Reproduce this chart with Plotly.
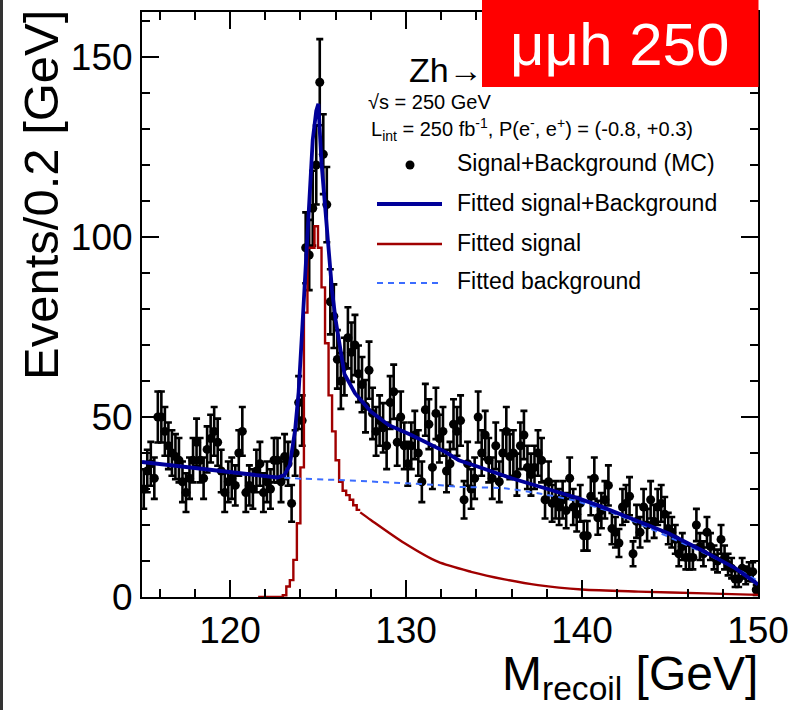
import numpy as np
import plotly.graph_objects as go

# ---------------- data ----------------
bin_width = 0.2
x_min, x_max = 115.0, 150.0
counts = [
    30, 35, 37, 33, 50, 50, 46, 42, 40, 39, 38, 32, 29, 33, 38, 43, 38, 33, 41, 44,
    46, 43, 35, 29, 32, 33, 31, 40, 46, 29, 31, 30, 35, 37, 29, 32, 30, 38, 38, 32,
    39, 37, 26,
    40, 54, 49, 97, 95, 108, 120, 143, 123, 109, 82, 78,
    66, 60, 64, 72, 68, 70, 62, 59, 53, 63, 51, 46, 49,
    47, 42, 54, 57, 43, 50, 42, 37, 42, 45, 40, 32, 52, 48, 36, 51, 44, 46, 35, 37,
    48, 46, 49, 27, 37, 30, 33, 50, 40, 45, 38, 33, 42, 32, 40, 46, 39, 40, 34, 42,
    45, 36, 34, 36, 40, 38,
    27, 32, 26, 27, 25, 27, 24, 33, 25, 23, 26, 17, 17, 28, 33, 22, 24, 27, 31, 19,
    18, 15, 25, 26, 28, 12, 21, 18, 25, 20, 27, 21, 25, 26, 23, 19, 18, 16, 12, 14,
    11, 11, 11, 20, 14, 12, 18, 14, 11, 10, 16, 11, 9, 8, 5, 5, 8, 6, 7, 7, 2,
]

# fitted signal histogram (peak region, per 0.2 GeV bin, left edges)
sig_bin_left = [121.6, 121.8, 122.0, 122.2, 122.4, 122.6, 122.8, 123.0, 123.2, 123.4,
                123.6, 123.8, 124.0, 124.2, 124.4, 124.6, 124.8, 125.0, 125.2, 125.4,
                125.6, 125.8, 126.0, 126.2, 126.4, 126.6, 126.8, 127.0, 127.2]
sig_bin_val = [0, 0, 0, 0, 0, 0, 0, 0.5, 2.9, 4.7,
               10.3, 20.5, 36, 79, 97, 97, 103, 97, 86, 70.5,
               56, 46, 38, 32, 29.5, 28.3, 27, 25.5, 24.2]
# fitted signal tail (read points)
sig_tail_x = [127.4, 128.0, 129.9, 131.8, 133.7, 135.6, 137.5, 140.0, 143.2, 147.0, 150.0]
sig_tail_y = [23.5, 21.4, 15.0, 9.8, 7.0, 4.9, 3.3, 2.1, 1.5, 1.0, 0.6]

# fitted signal + background
tot_x = [115.0, 118.2, 121.1, 122.7, 123.1, 123.4, 123.7, 123.9, 124.1, 124.3, 124.5,
         124.7, 124.9, 125.02, 125.2, 125.4, 125.6, 125.8, 126.0, 126.3, 126.5, 127.1,
         128.0, 129.0, 129.9, 130.3, 132.2, 133.0, 134.1, 136.0, 137.9, 139.8, 141.1,
         143.0, 144.9, 146.8, 148.7, 150.0]
tot_y = [37.5, 35.7, 33.9, 33.2, 33.9, 36.7, 46.4, 57, 74, 92.7, 111,
         127, 135, 137, 120.5, 109, 97, 85, 77, 68.6, 62, 56.6,
         51.5, 47.8, 46, 45, 40.4, 38, 36.2, 33, 30.2, 27.4, 25.1,
         21.4, 17.7, 13, 8, 3.5]

# fitted background
bkg_x = [115.0, 118.2, 121.1, 123.5, 126.1, 130.0, 131.8, 133.0, 135.6, 137.5, 139.4,
         141.3, 143.2, 145.1, 147.0, 148.9, 150.0]
bkg_y = [37.5, 35.7, 33.9, 33.0, 32.5, 31.6, 31.1, 30.6, 30.2, 28.8, 27.0,
         24.2, 20.5, 16.3, 12.1, 7.5, 4.5]

x_ticks = [120, 130, 140, 150]
y_ticks = [0, 50, 100, 150]

# ---------------- figure ----------------
W, H = 799, 710
L, R, T, B = 142, 41, 12, 113
PW, PH = W - L - R, H - T - B


def px(xp):
    return (xp - L) / PW


def py(yp):
    return (H - B - yp) / PH


FONT = "Liberation Sans, Arial, sans-serif"
BLUE = "#000099"
RED = "#a00000"
LBLUE = "#3b6cff"

centers = x_min + bin_width * (np.arange(len(counts)) + 0.5)
cnt = np.array(counts, dtype=float)
err = np.sqrt(cnt)

fig = go.Figure()

fig.add_trace(go.Scatter(
    x=centers, y=cnt, mode="markers",
    marker=dict(color="black", size=9),
    error_y=dict(type="data", array=err, visible=True, color="black", thickness=2.6, width=3.5),
    showlegend=False, cliponaxis=True,
))

fig.add_trace(go.Scatter(
    x=sig_bin_left + [sig_tail_x[0]], y=sig_bin_val + [sig_bin_val[-1]],
    mode="lines", line=dict(color=RED, width=2.4, shape="hv"), showlegend=False,
))
fig.add_trace(go.Scatter(
    x=sig_tail_x, y=sig_tail_y, mode="lines",
    line=dict(color=RED, width=2.4, shape="spline", smoothing=0.8), showlegend=False,
))
fig.add_trace(go.Scatter(
    x=bkg_x, y=bkg_y, mode="lines",
    line=dict(color=LBLUE, width=2, dash="6px,5px", shape="spline", smoothing=0.6),
    showlegend=False,
))
fig.add_trace(go.Scatter(
    x=tot_x, y=tot_y, mode="lines",
    line=dict(color=BLUE, width=3.8), showlegend=False,
))

axis_common = dict(
    showline=True, linecolor="black", linewidth=2, mirror="ticks",
    ticks="inside", ticklen=17, tickwidth=2, tickcolor="black",
    showgrid=False, zeroline=False,
    tickfont=dict(family=FONT, size=37, color="black"),
)

fig.update_xaxes(range=[x_min, x_max], tickvals=x_ticks,
                 minor=dict(dtick=2, tick0=0, ticklen=8, tickwidth=2, tickcolor="black",
                            ticks="inside", showgrid=False),
                 **axis_common)
fig.update_yaxes(range=[0, 162.5], tickvals=y_ticks,
                 minor=dict(dtick=10, tick0=0, ticklen=8, tickwidth=2, tickcolor="black",
                            ticks="inside", showgrid=False),
                 **axis_common)

shapes = []
annotations = []

# dark left border of the picture
shapes.append(dict(type="rect", xref="paper", yref="paper",
                   x0=px(0), x1=px(3), y0=py(H), y1=py(0),
                   fillcolor="#333333", line=dict(width=0), layer="above"))

# red label box
shapes.append(dict(type="rect", xref="paper", yref="paper",
                   x0=px(482), x1=px(758.5), y0=py(87), y1=py(0),
                   fillcolor="#ff0000", line=dict(width=0), layer="above"))
annotations.append(dict(text="μμh 250", xref="paper", yref="paper",
                        x=px(619), y=py(44), xanchor="center", yanchor="middle",
                        showarrow=False,
                        font=dict(family=FONT, size=60, color="white")))

annotations.append(dict(text="Zh→", xref="paper", yref="paper",
                        x=px(485), y=py(70), xanchor="right", yanchor="middle",
                        showarrow=False, font=dict(family=FONT, size=34, color="black")))
annotations.append(dict(text="√s = 250 GeV", xref="paper", yref="paper",
                        x=px(366), y=py(102), xanchor="left", yanchor="middle",
                        showarrow=False, font=dict(family=FONT, size=20, color="black")))
annotations.append(dict(text="L<sub>int</sub> = 250 fb<sup>-1</sup>, P(e<sup>-</sup>, e<sup>+</sup>) = (-0.8, +0.3)",
                        xref="paper", yref="paper",
                        x=px(369), y=py(130), xanchor="left", yanchor="middle",
                        showarrow=False, font=dict(family=FONT, size=20, color="black")))

# legend
leg_rows = [163, 203, 243, 281]
leg_text = ["Signal+Background (MC)", "Fitted signal+Background", "Fitted signal", "Fitted background"]
for yy, tx in zip(leg_rows, leg_text):
    annotations.append(dict(text=tx, xref="paper", yref="paper",
                            x=px(455), y=py(yy), xanchor="left", yanchor="middle",
                            showarrow=False, font=dict(family=FONT, size=23, color="black")))
shapes.append(dict(type="circle", xref="paper", yref="paper",
                   x0=px(405.5), x1=px(414.5), y0=py(169.5), y1=py(160.5),
                   fillcolor="black", line=dict(width=0)))
shapes.append(dict(type="line", xref="paper", yref="paper",
                   x0=px(377), x1=px(442), y0=py(204), y1=py(204),
                   line=dict(color=BLUE, width=3.8)))
shapes.append(dict(type="line", xref="paper", yref="paper",
                   x0=px(377), x1=px(442), y0=py(244), y1=py(244),
                   line=dict(color=RED, width=2.4)))
shapes.append(dict(type="line", xref="paper", yref="paper",
                   x0=px(377), x1=px(442), y0=py(283), y1=py(283),
                   line=dict(color=LBLUE, width=2, dash="6px,5px")))

# axis titles
annotations.append(dict(text="Events/0.2 [GeV]", xref="paper", yref="paper",
                        x=px(41), y=py(8), xanchor="center", yanchor="top",
                        textangle=-90, showarrow=False,
                        font=dict(family=FONT, size=49, color="black")))
annotations.append(dict(text="M<sub>recoil</sub> [GeV]", xref="paper", yref="paper",
                        x=px(760), y=py(709), xanchor="right", yanchor="bottom",
                        showarrow=False,
                        font=dict(family=FONT, size=48, color="black")))

fig.update_layout(
    width=W, height=H,
    margin=dict(l=L, r=R, t=T, b=B, autoexpand=False),
    paper_bgcolor="white", plot_bgcolor="white",
    shapes=shapes, annotations=annotations,
    showlegend=False,
)

fig.write_html("out.html")
